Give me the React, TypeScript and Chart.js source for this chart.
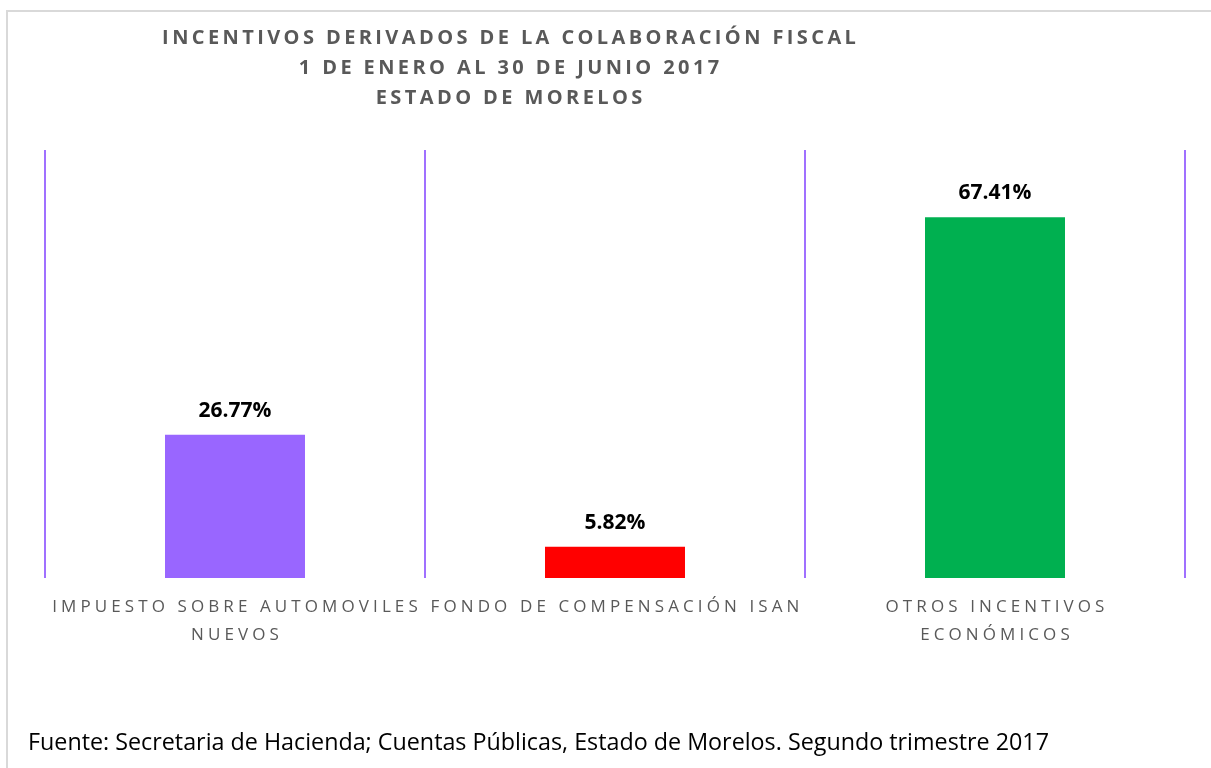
import React, { useEffect, useRef } from "react";
import { Chart, registerables } from "chart.js";

Chart.register(...registerables);

const titleLines: string[] = [
  "INCENTIVOS DERIVADOS DE LA COLABORACIÓN FISCAL",
  "1 DE ENERO AL 30 DE JUNIO 2017",
  "ESTADO DE MORELOS",
];
const categories: string[][] = [
  ["IMPUESTO SOBRE AUTOMOVILES", "NUEVOS"],
  ["FONDO DE COMPENSACIÓN ISAN"],
  ["OTROS INCENTIVOS", "ECONÓMICOS"],
];
const values: number[] = [26.77, 5.82, 67.41];
const barColors: string[] = ["#9966ff", "#ff0000", "#00b050"];
const sourceNote = "Fuente: Secretaria de Hacienda; Cuentas Públicas, Estado de Morelos. Segundo trimestre 2017";

const FONT = "'Open Sans', sans-serif";

const decorPlugin = {
  id: "decor",
  beforeDraw(chart: any) {
    const ctx = chart.ctx;
    ctx.save();
    ctx.fillStyle = "#ffffff";
    ctx.fillRect(0, 0, chart.width, chart.height);
    ctx.fillStyle = "#d9d9d9";
    ctx.fillRect(6, 10, chart.width - 6, 2);
    ctx.fillRect(6, 10, 2, chart.height - 10);
    ctx.restore();
  },
  afterDatasetsDraw(chart: any) {
    const ctx = chart.ctx;
    const meta = chart.getDatasetMeta(0);
    ctx.save();
    ctx.fillStyle = "#000000";
    ctx.font = `bold 21px ${FONT}`;
    ctx.textAlign = "center";
    ctx.textBaseline = "alphabetic";
    meta.data.forEach((bar: any, i: number) => {
      ctx.fillText(values[i].toFixed(2) + "%", bar.x, bar.y - 18);
    });
    ctx.restore();
  },
  afterDraw(chart: any) {
    const ctx = chart.ctx;
    const xs = chart.scales.x;
    const area = chart.chartArea;
    ctx.save();
    // title
    ctx.fillStyle = "#595959";
    ctx.font = `bold 20px ${FONT}`;
    (ctx as any).letterSpacing = "3.4px";
    ctx.textAlign = "center";
    ctx.textBaseline = "middle";
    titleLines.forEach((line, i) => {
      ctx.fillText(line, 509 + 1.7, 38 + i * 30);
    });
    // category labels
    ctx.fillStyle = "#595959";
    ctx.font = `17px ${FONT}`;
    (ctx as any).letterSpacing = "4.1px";
    categories.forEach((lines, i) => {
      const x = xs.getPixelForTick(i);
      lines.forEach((line, j) => {
        ctx.fillText(line, x + 2, area.bottom + 29 + j * 28.5);
      });
    });
    // footer
    (ctx as any).letterSpacing = "0px";
    ctx.fillStyle = "#000000";
    ctx.font = `23.3px ${FONT}`;
    ctx.textAlign = "left";
    ctx.textBaseline = "alphabetic";
    ctx.fillText(sourceNote, 28, 749.5);
    ctx.restore();
  },
};

export default function App() {
  const ref = useRef<HTMLCanvasElement | null>(null);
  useEffect(() => {
    if (!ref.current) return;
    const chart = new Chart(ref.current, {
      type: "bar",
      data: {
        labels: categories,
        datasets: [
          {
            data: values,
            backgroundColor: barColors,
            borderWidth: 0,
            categoryPercentage: 1,
            barPercentage: 0.3684,
          },
        ],
      },
      options: {
        responsive: false,
        animation: false,
        devicePixelRatio: 1,
        layout: { padding: { left: 45, right: 26, top: 150, bottom: 190 } },
        plugins: {
          legend: { display: false },
          title: { display: false },
          tooltip: { enabled: false },
        },
        scales: {
          x: {
            type: "category",
            offset: true,
            grid: {
              offset: true,
              color: "#a070ff",
              lineWidth: 2,
              drawTicks: false,
            },
            border: { display: false },
            ticks: { display: false },
            afterFit: (s: any) => {
              s.height = 0;
            },
          },
          y: {
            display: false,
            min: 0,
            max: 80,
          },
        },
      },
      plugins: [decorPlugin],
    } as any);
    return () => chart.destroy();
  }, []);
  return (
    <div style={{ position: "absolute", left: 0, top: 0, width: 1211, height: 768, background: "#fff" }}>
      <canvas ref={ref} width={1211} height={768} style={{ display: "block" }} />
    </div>
  );
}
